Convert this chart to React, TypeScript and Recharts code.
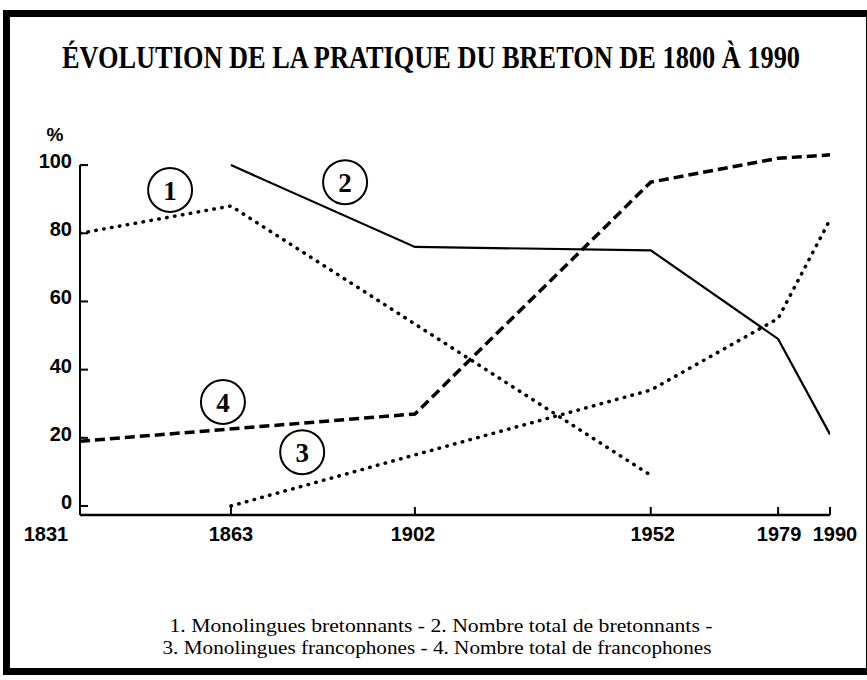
import React from 'react';
import { LineChart, Line, XAxis, YAxis, ReferenceLine, ReferenceDot } from 'recharts';

const years = [1831, 1863, 1902, 1952, 1979, 1990];
const monolinguesBretonnants = [80, 88, null, 9, null, null];
const totalBretonnants = [null, 100, 76, 75, 49, 21];
const monolinguesFrancophones = [null, 0, 15, 34, 55, 84];
const totalFrancophones = [19, null, 27, 95, 102, 103];
const yTicks = [0, 20, 40, 60, 80, 100];
const seriesMarkers = [
  { label: '1', year: 1850.1, value: 92.7 },
  { label: '2', year: 1887.2, value: 95 },
  { label: '3', year: 1878.1, value: 15.8 },
  { label: '4', year: 1861.3, value: 30.5 },
];
const title = 'ÉVOLUTION DE LA PRATIQUE DU BRETON DE 1800 À 1990';
const captionLines = [
  '1. Monolingues bretonnants - 2. Nombre total de bretonnants -',
  '3. Monolingues francophones - 4. Nombre total de francophones',
];

const data = years.map((year, i) => ({
  year,
  s1: monolinguesBretonnants[i],
  s2: totalBretonnants[i],
  s3: monolinguesFrancophones[i],
  s4: totalFrancophones[i],
}));

const SANS = "'Liberation Sans', Arial, sans-serif";
const SERIF = "'Liberation Serif', 'Times New Roman', serif";
const X_LABEL_SHIFT: Record<number, number> = { 1831: -34, 1863: 0, 1902: -2, 1952: 2, 1979: 1, 1990: 5 };

const XTick = (props: any) => {
  const { x, y, payload } = props;
  const v = payload.value;
  const dx = X_LABEL_SHIFT[v] ?? 0;
  return (
    <g>
      {v !== years[0] && (
        <line x1={x} y1={y} x2={x} y2={y - 8} stroke="#000" strokeWidth={2} />
      )}
      <text x={x + dx} y={y + 26} textAnchor="middle" fontSize={20} fontWeight="bold" fontFamily={SANS} fill="#000">
        {v}
      </text>
    </g>
  );
};

const YTick = (props: any) => {
  const { x, y, payload } = props;
  return (
    <g>
      <line x1={x} y1={y} x2={x + 8} y2={y} stroke="#000" strokeWidth={2} />
      <text x={x - 8} y={y + 3} textAnchor="end" fontSize={20} fontWeight="bold" fontFamily={SANS} fill="#000">
        {payload.value}
      </text>
    </g>
  );
};

const YLabel = (props: any) => {
  const { viewBox } = props;
  const vb = viewBox || { x: 20, y: 131, width: 60 };
  return (
    <text x={vb.x + vb.width - 25} y={vb.y + 10} textAnchor="middle" fontSize={19} fontWeight="bold" fontFamily={SANS} fill="#000">
      %
    </text>
  );
};

export default function App() {
  return (
    <div style={{ position: 'absolute', left: 0, top: 0, width: 867, height: 680, background: '#fff', overflow: 'hidden' }}>
      <div
        style={{
          position: 'absolute',
          left: 3,
          top: 10,
          width: 870,
          height: 665,
          border: '7px solid #000',
          boxSizing: 'border-box',
        }}
      />
      <svg style={{ position: 'absolute', left: 0, top: 0 }} width={867} height={100}>
        <g transform="scale(1,1.2)">
          <text x={431} y={56.7} textAnchor="middle" fontSize={26} fontWeight="bold" fontFamily={SERIF} textLength={738} lengthAdjust="spacingAndGlyphs" fill="#000">
            {title}
          </text>
        </g>
      </svg>
      <div style={{ position: 'absolute', left: 0, top: 0 }}>
        <LineChart width={867} height={680} data={data} margin={{ top: 131, right: 37, bottom: 125, left: 20 }}>
          <XAxis
            dataKey="year"
            type="number"
            domain={[1831, 1990]}
            ticks={years}
            interval={0}
            tickSize={0}
            tickMargin={0}
            tickLine={false}
            tick={<XTick />}
            axisLine={{ stroke: '#000', strokeWidth: 2.5 }}
            height={40}
            allowDataOverflow
          />
          <YAxis
            type="number"
            domain={[-2.64, 110]}
            ticks={yTicks}
            interval={0}
            tickSize={0}
            tickMargin={0}
            tickLine={false}
            axisLine={false}
            tick={<YTick />}
            width={60}
            allowDataOverflow
            label={<YLabel />}
          />
          <ReferenceLine
            segment={[{ x: 1831, y: -2.64 }, { x: 1831, y: 100 }]}
            stroke="#000"
            strokeWidth={2}
          />
          <Line dataKey="s1" type="linear" stroke="#000" strokeWidth={3.5} strokeDasharray="0.5 7.5" strokeLinecap="round" dot={false} connectNulls isAnimationActive={false} />
          <Line dataKey="s2" type="linear" stroke="#000" strokeWidth={2.2} dot={false} connectNulls isAnimationActive={false} />
          <Line dataKey="s3" type="linear" stroke="#000" strokeWidth={3.5} strokeDasharray="0.5 7.5" strokeLinecap="round" dot={false} connectNulls isAnimationActive={false} />
          <Line dataKey="s4" type="linear" stroke="#000" strokeWidth={3.5} strokeDasharray="10 5" dot={false} connectNulls isAnimationActive={false} />
          {seriesMarkers.map((m) => (
            <ReferenceDot
              key={m.label}
              x={m.year}
              y={m.value}
              r={22}
              fill="#fff"
              stroke="#000"
              strokeWidth={2}
              label={{ value: m.label, position: 'center', fill: '#000', fontSize: 27, fontWeight: 'bold', fontFamily: SERIF }}
            />
          ))}
        </LineChart>
      </div>
      <svg style={{ position: 'absolute', left: 0, top: 600 }} width={867} height={70}>
        <text x={441} y={32} textAnchor="middle" fontSize={19} fontFamily={SERIF} textLength={543} lengthAdjust="spacingAndGlyphs" fill="#000">
          {captionLines[0]}
        </text>
        <text x={437} y={54} textAnchor="middle" fontSize={19} fontFamily={SERIF} textLength={549} lengthAdjust="spacingAndGlyphs" fill="#000">
          {captionLines[1]}
        </text>
      </svg>
    </div>
  );
}
